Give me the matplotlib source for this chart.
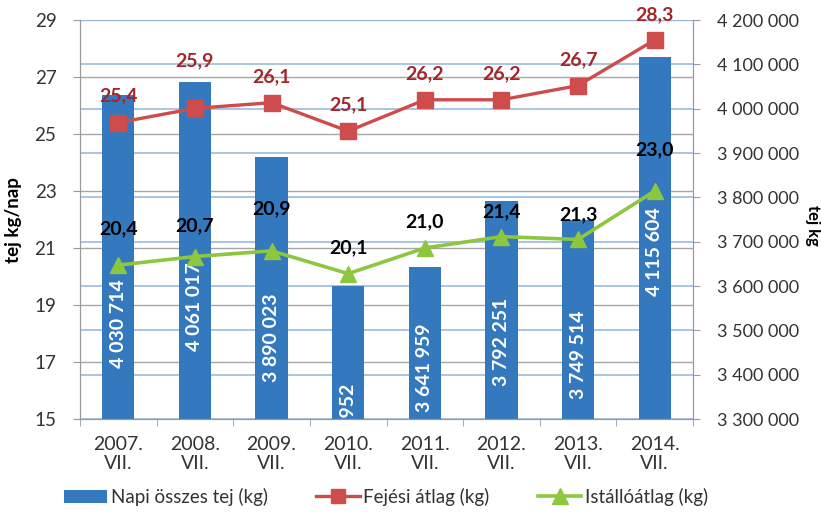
import matplotlib
matplotlib.use("Agg")
import matplotlib.pyplot as plt
from matplotlib.transforms import blended_transform_factory
from matplotlib.ticker import FuncFormatter
from matplotlib.lines import Line2D
from matplotlib.patches import Patch

plt.rcParams["font.family"] = ["Lato", "DejaVu Sans"]

# data
years = ["2007.\nVII.", "2008.\nVII.", "2009.\nVII.", "2010.\nVII.",
         "2011.\nVII.", "2012.\nVII.", "2013.\nVII.", "2014.\nVII."]
napi_osszes = [4030714, 4061017, 3890023, 3598952, 3641959, 3792251, 3749514, 4115604]
fejesi_atlag = [25.4, 25.9, 26.1, 25.1, 26.2, 26.2, 26.7, 28.3]
istallo_atlag = [20.4, 20.7, 20.9, 20.1, 21.0, 21.4, 21.3, 23.0]

# layout (label placement, as in the original chart)
bar_label_y = [18.33, 18.93, 17.84, 14.68, 16.79, 17.70, 17.25, 20.86]
fej_label_dy = [27, 48, 26, 26, 26, 26, 26, 25]      # px above marker
ist_label_dy = [36, 31, 42, 26, 26, 25, 25, 41]

BLUE = "#3479BD"
RED = "#CF4C4C"
RED_TXT = "#A3262A"
GREEN = "#8DC63F"
GRID_GRAY = "#A6A6A6"
GRID_BLUE = "#9BBBDD"
SPINE = "#9A9A9A"
TXT = "#333333"


def fmt_space(v, _pos=None):
    return f"{int(round(v)):,}".replace(",", " ")


fig = plt.figure(figsize=(8.21, 5.12), dpi=100)
ax = fig.add_axes([80 / 821, 1 - 419 / 512, (693 - 80) / 821, (419 - 20) / 512])
ax2 = ax.twinx()

# lines axis drawn above the bars axis
ax.set_zorder(ax2.get_zorder() + 1)
ax.patch.set_visible(False)

x = list(range(len(years)))

ax.set_xlim(-0.5, len(years) - 0.5)
ax.set_ylim(15, 29)
ax.set_yticks([15, 17, 19, 21, 23, 25, 27, 29])
ax2.set_ylim(3300000, 4200000)
ax2.set_yticks(range(3300000, 4200001, 100000))
ax2.yaxis.set_major_formatter(FuncFormatter(fmt_space))

# gridlines under the bars
ax2.yaxis.grid(True, color=GRID_BLUE, linewidth=1.2, zorder=0)
ax2.set_axisbelow(True)
trans = blended_transform_factory(ax2.transAxes, ax.transData)
for v in [17, 19, 21, 23, 25, 27, 29]:
    ax2.plot([0, 1], [v, v], transform=trans, color=GRID_GRAY, linewidth=1.0, zorder=0.5)

ax2.bar(x, napi_osszes, width=0.42, color=BLUE, zorder=2)

for i, v in enumerate(napi_osszes):
    ax.text(i, bar_label_y[i], fmt_space(v), rotation=90, ha="center", va="center",
            color="white", fontsize=14, fontweight="bold", clip_on=True, zorder=3)

ax.plot(x, fejesi_atlag, color=RED, linewidth=2.4, marker="s", markersize=11,
        zorder=5)
ax.plot(x, istallo_atlag, color=GREEN, linewidth=2.6, marker="^", markersize=12,
        zorder=5)

for i, v in enumerate(fejesi_atlag):
    ax.annotate(f"{v:.1f}".replace(".", ","), (i, v), xytext=(0, fej_label_dy[i] * 0.72),
                textcoords="offset points", ha="center", va="center",
                color=RED_TXT, fontsize=14, fontweight="bold", zorder=6)
for i, v in enumerate(istallo_atlag):
    ax.annotate(f"{v:.1f}".replace(".", ","), (i, v), xytext=(0, ist_label_dy[i] * 0.72),
                textcoords="offset points", ha="center", va="center",
                color="black", fontsize=14, fontweight="bold", zorder=6)

# x axis: labels at centres, tick marks at category borders
ax.set_xticks(x)
ax.set_xticklabels(years, fontsize=14, color=TXT, linespacing=1.2)
ax.set_xticks([i - 0.5 for i in range(len(years) + 1)], minor=True)
ax.tick_params(axis="x", which="major", length=0, pad=12)
ax.tick_params(axis="x", which="minor", length=5, color=SPINE, direction="out")
ax.tick_params(axis="y", length=5, color=SPINE, labelsize=13.5, labelcolor=TXT, pad=12)
ax2.tick_params(axis="y", length=5, color=SPINE, labelsize=13, labelcolor=TXT, pad=12)
ax2.tick_params(axis="x", length=0)

for a in (ax, ax2):
    for s in a.spines.values():
        s.set_color(SPINE)
    a.spines["top"].set_visible(False)

fig.text(14 / 821, 1 - 220 / 512, "tej kg/nap", rotation=90, ha="center", va="center",
         fontsize=13.5, fontweight="bold")
fig.text(813 / 821, 1 - 225 / 512, "tej kg", rotation=270, ha="center", va="center",
         fontsize=12, fontweight="bold")

handles = [
    Patch(facecolor=BLUE, edgecolor="none"),
    Line2D([], [], color=RED, linewidth=2.4, marker="s", markersize=10),
    Line2D([], [], color=GREEN, linewidth=2.6, marker="^", markersize=11),
]
labels = ["Napi összes tej (kg)", "Fejési átlag (kg)", "Istállóátlag (kg)"]
fig.legend(handles, labels, loc="center", bbox_to_anchor=(386 / 821, 1 - 497 / 512),
           ncol=3, frameon=False, fontsize=13.5, handlelength=2.3, handletextpad=0.2,
           columnspacing=2.6, labelcolor=TXT)

fig.savefig("out.png", dpi=100)
